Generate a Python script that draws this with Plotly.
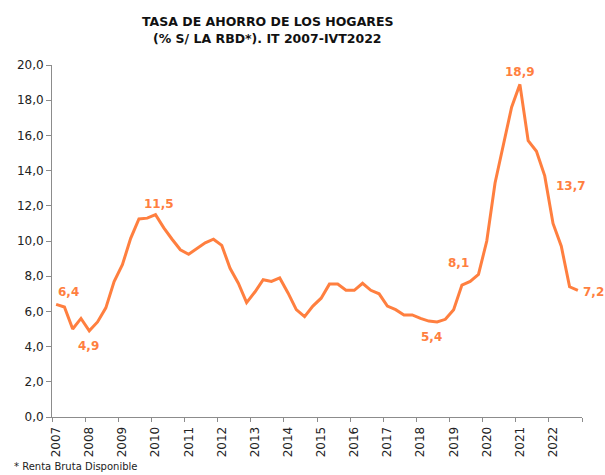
import plotly.graph_objects as go

years = [str(y) for y in range(2007, 2023)]
quarters = [f"{y}-T{q}" for y in years for q in range(1, 5)]
savings_rate = [
    6.4, 6.25, 5.0, 5.6,
    4.9, 5.4, 6.2, 7.7,
    8.65, 10.15, 11.25, 11.3,
    11.5, 10.75, 10.1, 9.5,
    9.25, 9.55, 9.9, 10.1,
    9.75, 8.45, 7.6, 6.5,
    7.1, 7.8, 7.7, 7.9,
    7.05, 6.1, 5.7, 6.3,
    6.75, 7.55, 7.55, 7.2,
    7.2, 7.6, 7.2, 7.0,
    6.3, 6.1, 5.8, 5.8,
    5.6, 5.45, 5.4, 5.55,
    6.1, 7.5, 7.7, 8.1,
    10.0, 13.3, 15.4, 17.6,
    18.9, 15.7, 15.1, 13.7,
    11.0, 9.7, 7.4, 7.2,
]
labelled_idx = [0, 4, 12, 46, 51, 56, 59, 63]
label_shift_x = [12, -1, 3, -6, -20, 0, 26, 16]
label_shift_y = [12, -15, 11, -15, 11, 12, -10, -2]
y_ticks = [0, 2, 4, 6, 8, 10, 12, 14, 16, 18, 20]

ORANGE = "#FF7F3F"
FONT = "DejaVu Sans"

xpos = list(range(len(quarters)))

fig = go.Figure()
fig.add_trace(go.Scatter(
    x=xpos, y=savings_rate, mode="lines",
    line=dict(color=ORANGE, width=3),
    customdata=quarters,
    hovertemplate="%{customdata}: %{y:.1f}<extra></extra>",
    showlegend=False,
))

annotations = []
for i, dx, dy in zip(labelled_idx, label_shift_x, label_shift_y):
    annotations.append(dict(
        x=xpos[i], y=savings_rate[i], xref="x", yref="y",
        text=f"{savings_rate[i]:.1f}".replace(".", ","),
        showarrow=False, xshift=dx, yshift=dy,
        font=dict(family=FONT, size=12, color=ORANGE, weight="bold"),
    ))

annotations += [
    dict(x=0.4057, y=1.1236, xref="paper", yref="paper", xanchor="center", yanchor="middle",
         text="<b>TASA DE AHORRO DE LOS HOGARES</b>", showarrow=False,
         font=dict(family=FONT, size=12.5, color="#111111")),
    dict(x=0.4057, y=1.0739, xref="paper", yref="paper", xanchor="center", yanchor="middle",
         text="<b>(% S/ LA RBD*). IT 2007-IVT2022</b>", showarrow=False,
         font=dict(family=FONT, size=12.5, color="#111111")),
    dict(x=-0.0755, y=-0.14, xref="paper", yref="paper", xanchor="left", yanchor="middle",
         text="* Renta Bruta Disponible", showarrow=False,
         font=dict(family=FONT, size=10, color="#222222")),
]

tick_idx = [quarters.index(f"{y}-T1") for y in years]
boundaries = [i - 0.5 for i in range(0, len(quarters) + 1, 4)]

fig.update_layout(
    width=605, height=475,
    margin=dict(l=52, r=23, t=65, b=58),
    paper_bgcolor="white", plot_bgcolor="white",
    separators=",.",
    font=dict(family=FONT, size=12, color="#222222"),
    annotations=annotations,
    xaxis=dict(
        range=[-0.5, len(quarters) - 0.5],
        tickmode="array", tickvals=tick_idx, ticktext=years,
        tickangle=-90, ticks="outside", ticklen=4, tickcolor="rgba(0,0,0,0)",
        showgrid=False, zeroline=False,
        showline=True, linecolor="#8c8c8c", linewidth=1,
        tickfont=dict(family=FONT, size=12, color="#222222"),
        minor=dict(tickmode="array", tickvals=boundaries, ticks="outside",
                   ticklen=4, tickcolor="#8c8c8c", showgrid=False),
        fixedrange=True,
    ),
    yaxis=dict(
        range=[0, 20], tickmode="array", tickvals=y_ticks,
        tickformat=".1f", ticks="outside", ticklen=5, tickcolor="#8c8c8c",
        showgrid=False, zeroline=False,
        showline=True, linecolor="#8c8c8c", linewidth=1,
        tickfont=dict(family=FONT, size=12, color="#222222"),
        fixedrange=True,
    ),
)

fig.write_html("out.html", config={"displayModeBar": False},
               post_script="document.body.style.margin='0';")
